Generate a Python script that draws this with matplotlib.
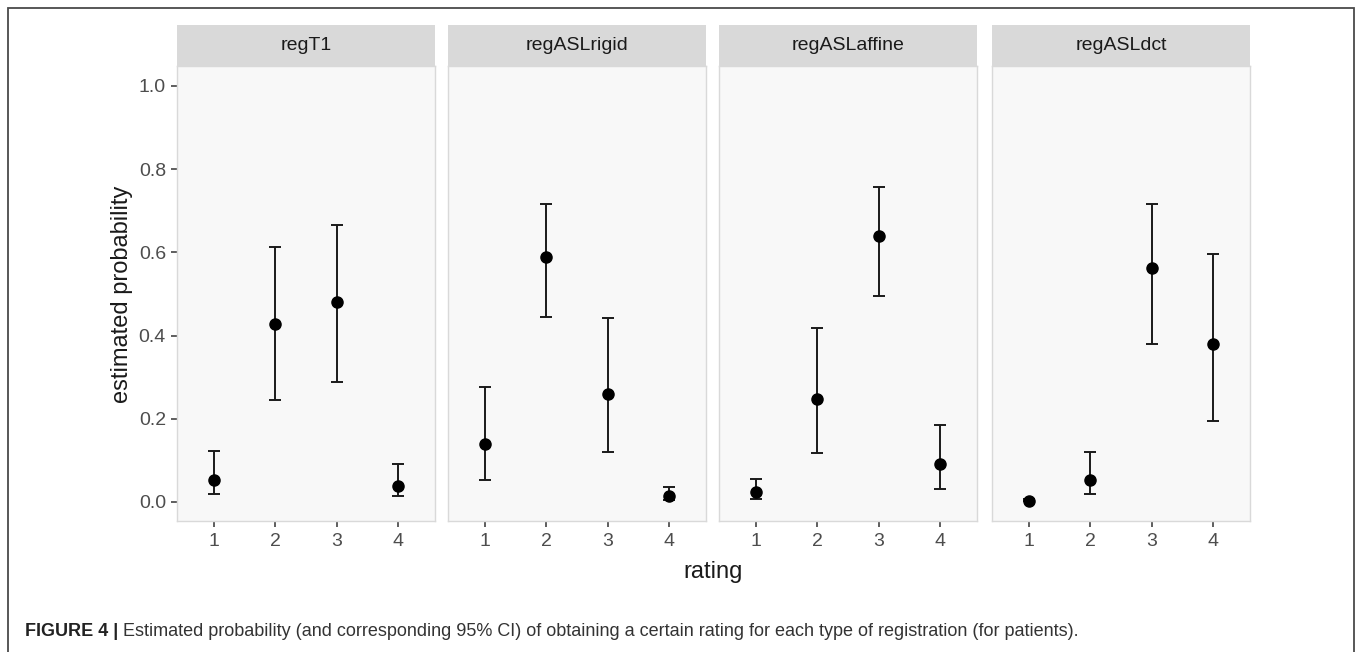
import matplotlib
matplotlib.use("Agg")
import matplotlib.pyplot as plt
from matplotlib.patches import Rectangle

plt.rcParams['font.family'] = ['Liberation Sans', 'DejaVu Sans']

panels = ["regT1", "regASLrigid", "regASLaffine", "regASLdct"]
ratings = [1, 2, 3, 4]
estimate = [
    [0.053, 0.427, 0.481, 0.039],
    [0.139, 0.588, 0.260, 0.013],
    [0.023, 0.248, 0.640, 0.091],
    [0.003, 0.053, 0.563, 0.380],
]
lower = [
    [0.018, 0.244, 0.288, 0.013],
    [0.053, 0.444, 0.121, 0.005],
    [0.007, 0.117, 0.496, 0.031],
    [0.001, 0.018, 0.379, 0.195],
]
upper = [
    [0.123, 0.613, 0.665, 0.091],
    [0.277, 0.716, 0.441, 0.035],
    [0.056, 0.417, 0.757, 0.186],
    [0.008, 0.119, 0.716, 0.596],
]
yticks = [0.0, 0.2, 0.4, 0.6, 0.8, 1.0]

W, H = 1357, 652
fig = plt.figure(figsize=(W / 100, H / 100), dpi=100)

# outer frame (bottom edge falls outside the picture, as in the crop)
frame_left, frame_right, frame_top = 8, 1354, 8
fig.patches.append(Rectangle((frame_left / W, -10 / H),
                             (frame_right - frame_left) / W,
                             (H - frame_top + 10) / H,
                             transform=fig.transFigure, fill=False,
                             edgecolor='#4a4a4a', linewidth=1.3))

panel_left = [177, 448, 719, 992]
pw = 258
ptop, pbot = 66, 521
strip_top = 25

for i, name in enumerate(panels):
    x0 = panel_left[i]
    ax = fig.add_axes([x0 / W, 1 - pbot / H, pw / W, (pbot - ptop) / H])
    ax.set_facecolor('#f8f8f8')
    for s in ax.spines.values():
        s.set_color('#d9d9d9')
        s.set_linewidth(1.0)
    lo = [e - l for e, l in zip(estimate[i], lower[i])]
    hi = [u - e for e, u in zip(estimate[i], upper[i])]
    ax.errorbar(ratings, estimate[i], yerr=[lo, hi], fmt='o', color='black',
                ecolor='#1a1a1a', elinewidth=1.4, capsize=4.5, capthick=1.4,
                markersize=8)
    ax.set_xlim(0.4, 4.6)
    ax.set_ylim(-0.046, 1.048)
    ax.set_xticks(ratings)
    ax.set_xticklabels([str(r) for r in ratings])
    ax.set_yticks(yticks)
    ax.tick_params(axis='both', colors='#333333', labelcolor='#4d4d4d',
                   labelsize=14, length=4.5, width=1.1)
    ax.tick_params(axis='x', pad=4)
    ax.tick_params(axis='y', pad=3.5)
    if i == 0:
        ax.set_yticklabels([f"{v:.1f}" for v in yticks])
    else:
        ax.tick_params(axis='y', left=False, labelleft=False)
    # strip
    sax = fig.add_axes([x0 / W, 1 - ptop / H, pw / W, (ptop - strip_top) / H])
    sax.set_facecolor('#d9d9d9')
    sax.set_xticks([]); sax.set_yticks([])
    for s in sax.spines.values():
        s.set_visible(False)
    sax.text(0.5, 0.5, name, ha='center', va='center', fontsize=14,
             color='#1a1a1a', transform=sax.transAxes)

fig.text(713 / W, 1 - 572 / H, "rating", ha='center', va='center',
         fontsize=17, color='#1a1a1a')
fig.text(122 / W, 1 - 294 / H, "estimated probability", ha='center',
         va='center', rotation=90, fontsize=17, color='#1a1a1a')

t1 = fig.text(25 / W, 1 - 632 / H, "FIGURE 4 | ", ha='left', va='center',
              fontsize=13, fontweight='bold', color='#222222')
fig.canvas.draw()
bb = t1.get_window_extent()
fig.text(bb.x1 / W, 1 - 632 / H,
         "Estimated probability (and corresponding 95% CI) of obtaining a certain rating for each type of registration (for patients).",
         ha='left', va='center', fontsize=13, color='#333333')

fig.savefig("out.png", dpi=100)
